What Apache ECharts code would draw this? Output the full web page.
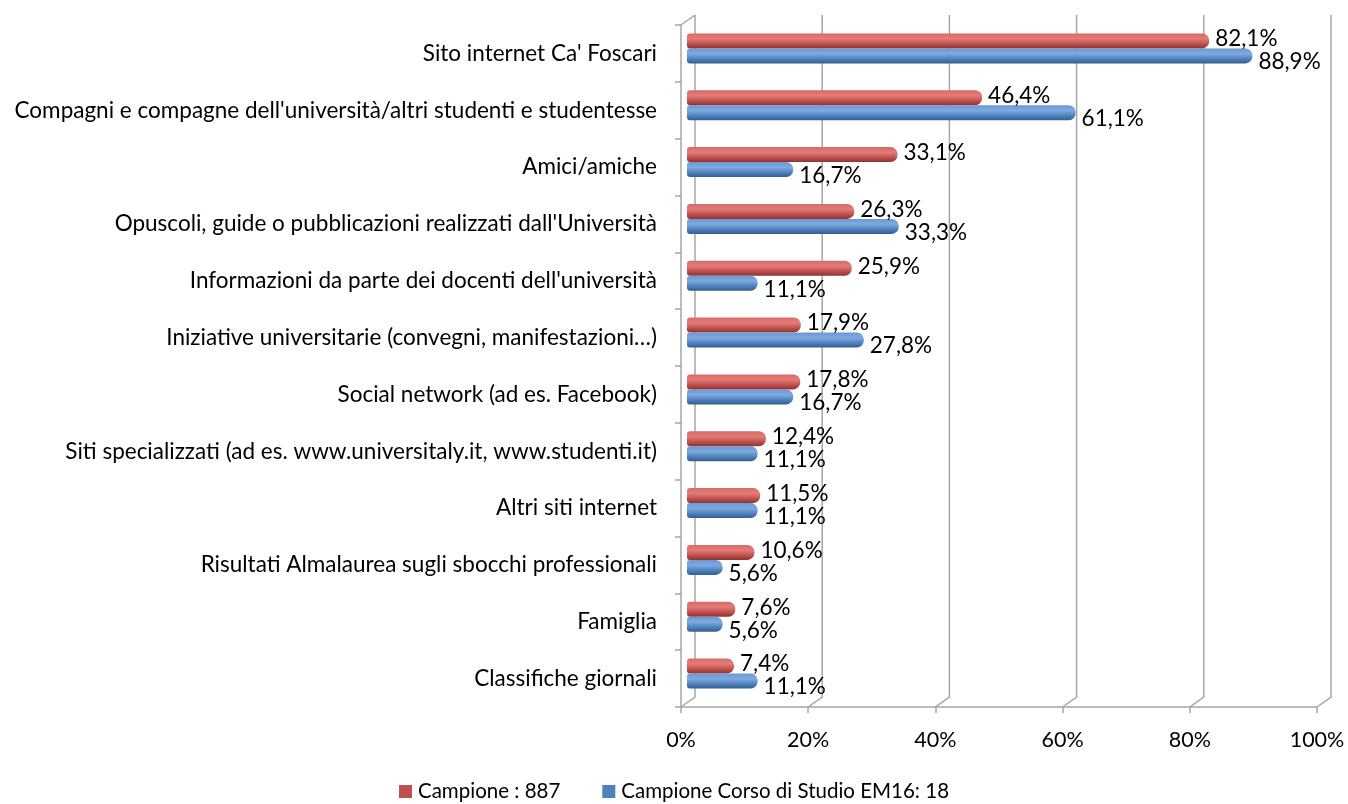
<!DOCTYPE html>
<html>
<head>
<meta charset="utf-8">
<script src="https://cdn.jsdelivr.net/npm/echarts@6/dist/echarts.min.js"></script>
<style>html,body{margin:0;padding:0;background:#fff}#c{width:1348px;height:804px}</style>
</head>
<body>
<div id="c"></div>
<script>
const categories = [
  "Sito internet Ca' Foscari",
  "Compagni e compagne dell'università/altri studenti e studentesse",
  "Amici/amiche",
  "Opuscoli, guide o pubblicazioni realizzati dall'Università",
  "Informazioni da parte dei docenti dell'università",
  "Iniziative universitarie (convegni, manifestazioni…)",
  "Social network (ad es. Facebook)",
  "Siti specializzati (ad es. www.universitaly.it, www.studenti.it)",
  "Altri siti internet",
  "Risultati Almalaurea sugli sbocchi professionali",
  "Famiglia",
  "Classifiche giornali"
];
const campione887 = [82.1, 46.4, 33.1, 26.3, 25.9, 17.9, 17.8, 12.4, 11.5, 10.6, 7.6, 7.4];
const campioneEM16 = [88.9, 61.1, 16.7, 33.3, 11.1, 27.8, 16.7, 11.1, 11.1, 5.6, 5.6, 11.1];
const seriesNames = ["Campione : 887", "Campione Corso di Studio EM16: 18"];
const xTicks = [0, 20, 40, 60, 80, 100];

const FONT = "Lato";
const AXIS = "#a6a6a6";
const DX = 14, DY = 10;

function grad(c0, c1, c2, c3) {
  return new echarts.graphic.LinearGradient(0, 0, 0, 1, [
    {offset: 0, color: c0}, {offset: 0.35, color: c1}, {offset: 0.7, color: c2}, {offset: 1, color: c3}
  ]);
}
const fmt = p => p.value.toFixed(1).replace('.', ',') + '%';

const chart = echarts.init(document.getElementById('c'));
chart.setOption({
  animation: false,
  textStyle: {fontFamily: FONT},
  grid: [
    {left: 681, width: 636, top: 25, height: 682},
    {left: 687, width: 636, top: 20, height: 682}
  ],
  xAxis: [
    {gridIndex: 0, type: 'value', min: 0, max: 100, interval: 20,
     axisLine: {show: true, lineStyle: {color: AXIS, width: 1.5}},
     axisTick: {show: true, length: 6, lineStyle: {color: AXIS, width: 1.5}},
     splitLine: {show: false},
     axisLabel: {color: '#000', fontSize: 21.5, fontFamily: FONT, margin: 22, formatter: v => v + '%'}},
    {gridIndex: 1, type: 'value', min: 0, max: 100, show: false, splitLine: {show: false}}
  ],
  yAxis: [
    {gridIndex: 0, type: 'category', data: categories, inverse: true,
     axisLine: {show: true, lineStyle: {color: AXIS, width: 1.5}},
     axisTick: {show: true, length: 6, lineStyle: {color: AXIS, width: 1.5}},
     axisLabel: {color: '#000', fontSize: 22.5, fontFamily: FONT, margin: 24, padding: [8, 0, 0, 0]}},
    {gridIndex: 1, type: 'category', data: categories, inverse: true, show: false}
  ],
  legend: {
    bottom: -3, left: 'center', itemWidth: 13, itemHeight: 13, itemGap: 42,
    icon: 'rect',
    textStyle: {color: '#000', fontSize: 20.5, fontFamily: FONT, padding: [0, 0, 0, 1]},
    data: [
      {name: seriesNames[0], itemStyle: {color: '#c0504d'}},
      {name: seriesNames[1], itemStyle: {color: '#4f81bd'}}
    ]
  },
  series: [
    {
      type: 'custom', xAxisIndex: 0, yAxisIndex: 0, silent: true, z: 1,
      data: xTicks.map(v => [v, 0]),
      encode: {x: 0, y: 1},
      renderItem: function (params, api) {
        const cs = params.coordSys;
        const x = api.coord([api.value(0), 0])[0];
        const top = cs.y, bottom = cs.y + cs.height;
        const children = [{
          type: 'polyline',
          shape: {points: [[x, bottom], [x + DX, bottom - DY], [x + DX, top - DY]]},
          style: {stroke: AXIS, lineWidth: 1.5, fill: null}
        }];
        if (api.value(0) === 0) {
          children.push({
            type: 'polyline',
            shape: {points: [[x, top], [x + DX, top - DY]]},
            style: {stroke: AXIS, lineWidth: 1.5, fill: null}
          });
        }
        return {type: 'group', children: children};
      }
    },
    {
      name: seriesNames[0], type: 'bar', xAxisIndex: 1, yAxisIndex: 1, z: 3,
      data: campione887, barWidth: 15, barGap: '0%',
      itemStyle: {color: grad('#d86a66', '#e27c78', '#c0504d', '#8a3432'), borderRadius: [3, 7, 7, 3]},
      label: {show: true, position: 'right', distance: 6, offset: [0, -2], color: '#000', fontSize: 22.5, fontFamily: FONT, formatter: fmt}
    },
    {
      name: seriesNames[1], type: 'bar', xAxisIndex: 1, yAxisIndex: 1, z: 3,
      data: campioneEM16, barWidth: 15, barGap: '0%',
      itemStyle: {color: grad('#6b98d2', '#7eaae0', '#4f81bd', '#335d8e'), borderRadius: [3, 7, 7, 3]},
      label: {show: true, position: 'right', distance: 6, offset: [0, 6], color: '#000', fontSize: 22.5, fontFamily: FONT, formatter: fmt}
    }
  ]
});
</script>
</body>
</html>
